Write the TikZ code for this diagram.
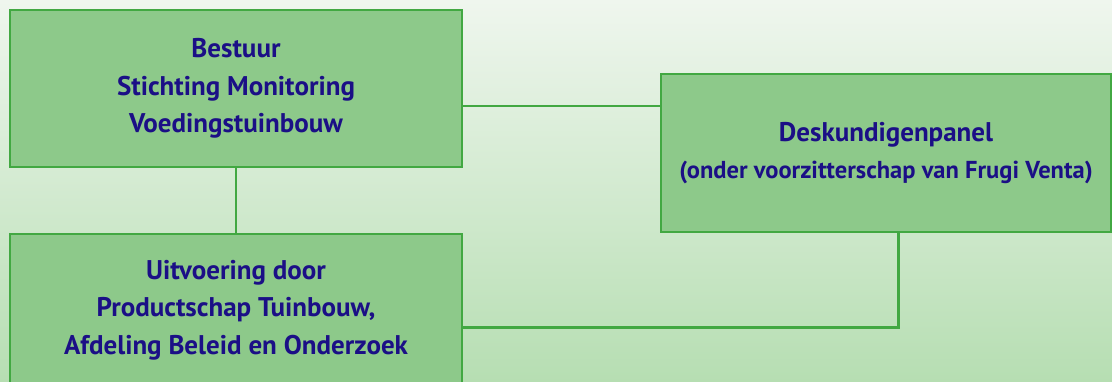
\documentclass[tikz,border=0pt]{standalone}
\usepackage{fontspec}
\setmainfont{PT Sans}
\definecolor{boxfill}{HTML}{8DC98A}
\definecolor{boxline}{HTML}{42A842}
\definecolor{txt}{HTML}{1B0F86}
\definecolor{bgtop}{HTML}{EFF6EE}
\definecolor{bgbot}{HTML}{B6DEB2}
\begin{document}
\begin{tikzpicture}[x=1pt,y=1pt,
  box/.style={draw=boxline,fill=boxfill,line width=2.7pt,align=center,
    text=txt,font=\fontsize{27}{37.5}\selectfont\bfseries,inner sep=0pt},
  link/.style={draw=boxline,line width=2.7pt}]
\useasboundingbox (0,0) rectangle (1112,382);
\shade[top color=bgtop,bottom color=bgbot] (0,0) rectangle (1112,382);
\begin{scope}
\clip (0,0) rectangle (1112,382);
\node[box,minimum width=452pt,minimum height=157pt] (b1) at (236,293.5)
  {Bestuur\\Stichting Monitoring\\Voedingstuinbouw};
\node[box,minimum width=452pt,minimum height=152pt] (b2) at (236,72)
  {Uitvoering door\\Productschap Tuinbouw,\\Afdeling Beleid en Onderzoek};
\node[box,minimum width=450pt,minimum height=158pt] (b3) at (886,229)
  {Deskundigenpanel\\{\fontsize{24.5}{37.5}\selectfont (onder voorzitterschap van Frugi Venta)}};
\end{scope}
\draw[link] ([yshift=-17.5pt]b1.east) -- ([yshift=-17.5pt]b1.east -| b3.west);
\draw[link] (b1.south) -- (b2.north);
\draw[link] ([xshift=12.5pt]b3.south) |- ([yshift=-17.5pt]b2.east);
\end{tikzpicture}
\end{document}
